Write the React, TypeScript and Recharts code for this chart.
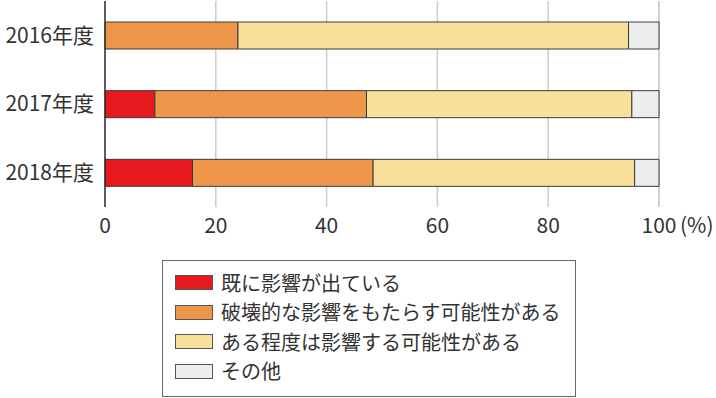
import React from 'react';
import { BarChart, Bar, XAxis, YAxis, CartesianGrid, Legend } from 'recharts';

const years = ['2016年度', '2017年度', '2018年度'];
const alreadyAffected = [0, 9.0, 15.8];
const destructive = [24.0, 38.2, 32.6];
const somewhat = [70.5, 47.9, 47.2];
const other = [5.5, 4.9, 4.4];
const xTicks = [0, 20, 40, 60, 80, 100];

const seriesNames = [
  '既に影響が出ている',
  '破壊的な影響をもたらす可能性がある',
  'ある程度は影響する可能性がある',
  'その他',
];
const seriesColors = ['#e8191e', '#ee964a', '#f8e09a', '#eceeed'];
const seriesKeys = ['a', 'b', 'c', 'd'];

const data = years.map((y, i) => ({
  year: y,
  a: alreadyAffected[i],
  b: destructive[i],
  c: somewhat[i],
  d: other[i],
}));

const FONT = '"Noto Sans CJK JP", "Noto Sans", sans-serif';
const TEXT = '#333333';

const XTick = (props: any) => {
  const { x, y, payload } = props;
  const v = payload.value;
  if (v === 100) {
    return (
      <g>
        <text x={x} y={y + 18} textAnchor="middle" fontSize={21} fill={TEXT} fontFamily={FONT}>100</text>
        <text x={x + 21} y={y + 18} textAnchor="start" fontSize={21} fill={TEXT} fontFamily={FONT}>(%)</text>
      </g>
    );
  }
  return (
    <text x={x} y={y + 18} textAnchor="middle" fontSize={21} fill={TEXT} fontFamily={FONT}>{v}</text>
  );
};

const LegendBox = (props: any) => {
  const payload: any[] = props.payload || [];
  const ordered = seriesNames.map((name, i) => {
    const found = payload.find((p: any) => p.value === name);
    return { value: name, color: found ? found.color : seriesColors[i] };
  });
  return (
    <div
      style={{
        boxSizing: 'border-box',
        width: 414,
        height: 137,
        border: '1.5px solid #666',
        background: '#fff',
        paddingTop: 7,
        paddingLeft: 12,
        fontFamily: FONT,
        fontSize: 20,
        color: TEXT,
      }}
    >
      {ordered.map((entry, i) => (
        <div key={i} style={{ display: 'flex', alignItems: 'center', height: 29.5 }}>
          <div
            style={{
              boxSizing: 'border-box',
              width: 38,
              height: 15,
              background: entry.color,
              border: '1px solid #555',
              marginRight: 8,
            }}
          />
          <span style={{ lineHeight: '20px' }}>{entry.value}</span>
        </div>
      ))}
    </div>
  );
};

export default function App() {
  return (
    <div style={{ position: 'absolute', left: 0, top: 0, width: 716, height: 398, background: '#fff' }}>
      <BarChart
        width={716}
        height={398}
        data={data}
        layout="vertical"
        margin={{ top: 1, right: 57, left: 0, bottom: 161 }}
        barSize={27}
      >
        <CartesianGrid horizontal={false} vertical={true} stroke="#cccccc" strokeWidth={1.5} />
        <XAxis
          type="number"
          domain={[0, 100]}
          ticks={xTicks}
          axisLine={false}
          tickLine={false}
          height={30}
          tick={<XTick />}
          interval={0}
        />
        <YAxis
          type="category"
          dataKey="year"
          width={105}
          tickLine={false}
          axisLine={{ stroke: '#333', strokeWidth: 1.5 }}
          tickMargin={5}
          tick={{ fontSize: 21, fill: TEXT, fontFamily: FONT }}
        />
        {seriesKeys.map((k, i) => (
          <Bar
            key={k}
            dataKey={k}
            name={seriesNames[i]}
            stackId="s"
            fill={seriesColors[i]}
            stroke="#3a3a3a"
            strokeWidth={1}
            isAnimationActive={false}
          />
        ))}
        <Legend
          layout="vertical"
          align="center"
          verticalAlign="middle"
          content={<LegendBox />}
          wrapperStyle={{ left: 162, top: 260, width: 414, height: 137 }}
        />
      </BarChart>
    </div>
  );
}
